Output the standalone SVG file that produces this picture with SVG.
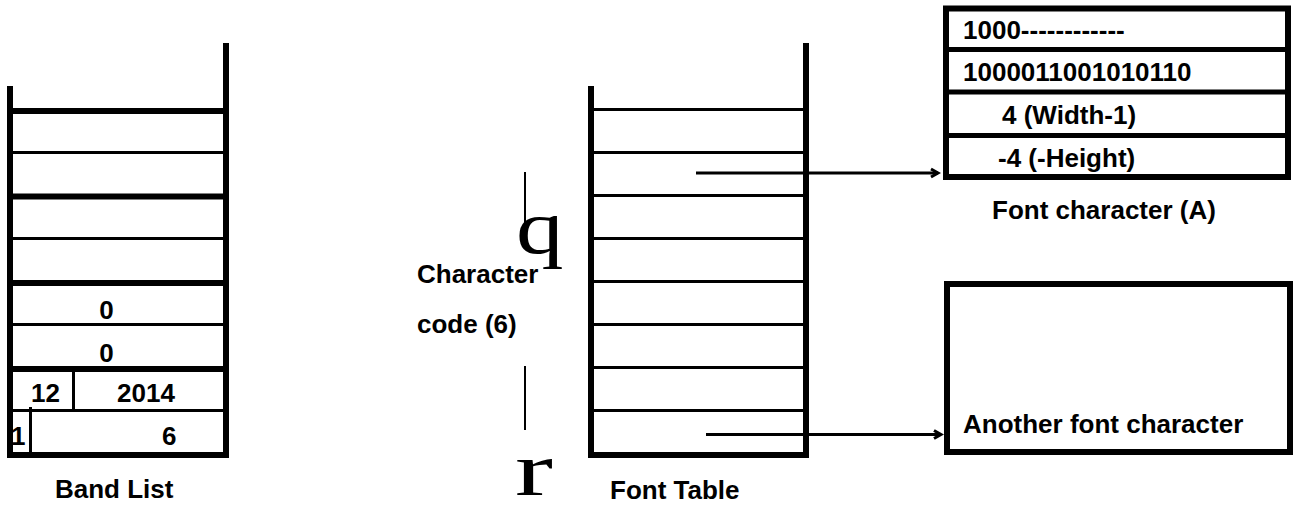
<svg xmlns="http://www.w3.org/2000/svg" width="1298" height="506" viewBox="0 0 1298 506">
  <style>
    .bg { fill: #ffffff; }
    .heavy { stroke: #000; stroke-width: 6; fill: none; }
    .rule { stroke: #000; stroke-width: 3; fill: none; }
    .rule-thick { stroke: #000; stroke-width: 5; fill: none; }
    .tick { stroke: #000; stroke-width: 2; fill: none; }
    .txt { font-family: "Liberation Sans", Arial, sans-serif; font-weight: bold; font-size: 26px; fill: #000; }
    .mid { text-anchor: middle; }
    .glyph { font-family: "Liberation Serif", "Times New Roman", serif; font-size: 76px; fill: #000; }
    .conn { stroke: #000; stroke-width: 3; fill: none; }
  </style>
  <defs>
    <marker id="chevron" markerUnits="userSpaceOnUse" markerWidth="12" markerHeight="12" refX="9" refY="6" orient="auto">
      <path d="M2,2 L9,6 L2,10" fill="none" stroke="#000" stroke-width="3"/>
    </marker>
  </defs>

  <rect class="bg" x="0" y="0" width="1298" height="506"/>

  <!-- Band list stack -->
  <g id="band-list">
    <line class="heavy" x1="10" y1="86" x2="10" y2="458"/>
    <line class="heavy" x1="226" y1="43" x2="226" y2="458"/>
    <line class="heavy" x1="10" y1="111" x2="226" y2="111"/>
    <line class="rule" x1="10" y1="152.5" x2="226" y2="152.5"/>
    <line class="heavy" x1="10" y1="196.5" x2="226" y2="196.5"/>
    <line class="rule" x1="10" y1="238.5" x2="226" y2="238.5"/>
    <line class="heavy" x1="10" y1="283" x2="226" y2="283"/>
    <line class="rule" x1="10" y1="324.5" x2="226" y2="324.5"/>
    <line class="heavy" x1="10" y1="369" x2="226" y2="369"/>
    <line class="rule" x1="10" y1="410.5" x2="226" y2="410.5"/>
    <line class="heavy" x1="10" y1="455" x2="226" y2="455"/>
    <line class="rule" x1="73.5" y1="369" x2="73.5" y2="410.5"/>
    <line class="rule" x1="30.5" y1="407" x2="30.5" y2="455"/>
    <text class="txt mid" x="106.5" y="319">0</text>
    <text class="txt mid" x="106.5" y="362">0</text>
    <text class="txt" x="31" y="402">12</text>
    <text class="txt" x="117" y="402">2014</text>
    <text class="txt" x="11" y="445">1</text>
    <text class="txt" x="162" y="445">6</text>
    <text class="txt" x="55" y="498">Band List</text>
  </g>

  <!-- Character code bracket -->
  <g id="char-code">
    <line class="tick" x1="525" y1="172" x2="525" y2="237"/>
    <line class="tick" x1="525" y1="366" x2="525" y2="430"/>
    <text class="glyph" transform="translate(516,253) scale(1.25,1)">q</text>
    <text class="glyph" transform="translate(515,495) scale(1.5,1)">r</text>
    <text class="txt" x="417" y="283">Character</text>
    <text class="txt" x="417" y="333">code (6)</text>
  </g>

  <!-- Font table stack -->
  <g id="font-table">
    <line class="heavy" x1="591" y1="86" x2="591" y2="458"/>
    <line class="heavy" x1="806" y1="43" x2="806" y2="458"/>
    <line class="rule" x1="591" y1="109.5" x2="806" y2="109.5"/>
    <line class="rule" x1="591" y1="152.5" x2="806" y2="152.5"/>
    <line class="rule" x1="591" y1="195.5" x2="806" y2="195.5"/>
    <line class="rule" x1="591" y1="238.5" x2="806" y2="238.5"/>
    <line class="rule" x1="591" y1="281.5" x2="806" y2="281.5"/>
    <line class="rule" x1="591" y1="324.5" x2="806" y2="324.5"/>
    <line class="rule" x1="591" y1="367.5" x2="806" y2="367.5"/>
    <line class="rule" x1="591" y1="410.5" x2="806" y2="410.5"/>
    <line class="heavy" x1="591" y1="455" x2="806" y2="455"/>
    <text class="txt" x="610" y="499">Font Table</text>
  </g>

  <!-- Font character (A) record -->
  <g id="font-char-a">
    <rect class="heavy" x="946" y="8.5" width="342" height="168.5"/>
    <line class="rule-thick" x1="946" y1="49.5" x2="1288" y2="49.5"/>
    <line class="rule-thick" x1="946" y1="92" x2="1288" y2="92"/>
    <line class="rule-thick" x1="946" y1="135.5" x2="1288" y2="135.5"/>
    <text class="txt" x="963" y="39">1000------------</text>
    <text class="txt" x="963" y="81">1000011001010110</text>
    <text class="txt" x="1002" y="124">4 (Width-1)</text>
    <text class="txt" x="998" y="167">-4 (-Height)</text>
    <text class="txt" x="992" y="219">Font character (A)</text>
  </g>

  <!-- Another font character record -->
  <g id="font-char-other">
    <rect class="heavy" x="947" y="284" width="343" height="168"/>
    <text class="txt" x="963" y="433">Another font character</text>
  </g>

  <!-- Pointers from table entries to character records -->
  <g id="connectors">
    <line class="conn" x1="696" y1="173" x2="938" y2="173" marker-end="url(#chevron)"/>
    <line class="conn" x1="706" y1="434.5" x2="941" y2="434.5" marker-end="url(#chevron)"/>
  </g>
</svg>
